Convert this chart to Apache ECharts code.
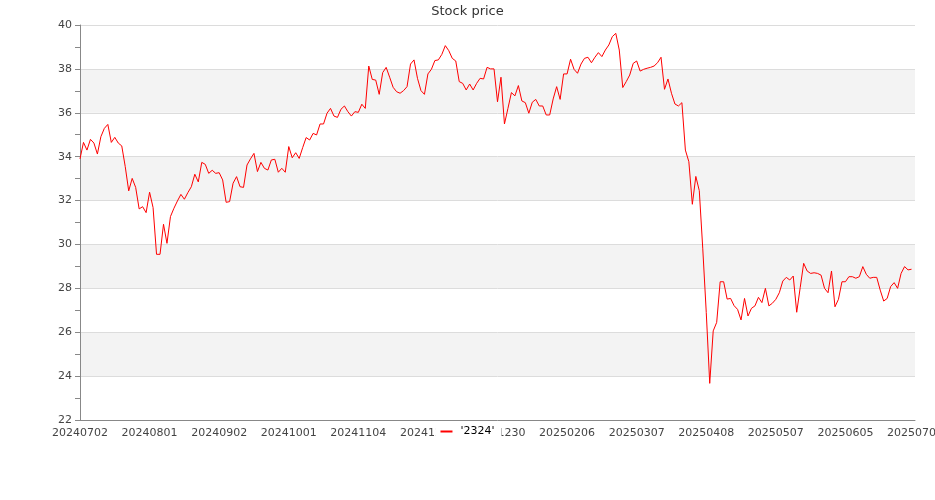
<!DOCTYPE html>
<html>
<head>
<meta charset="utf-8">
<script src="https://cdn.jsdelivr.net/npm/echarts@6/dist/echarts.min.js"></script>
<style>html,body{margin:0;padding:0;background:#fff}#c{width:935px;height:500px}</style>
</head>
<body>
<div id="c"></div>
<script>
// Trading days per month (categories)
const tradingDays = [
  ['202407', [2,3,4,5,8,9,10,11,12,15,16,17,18,19,22,23,26,29,30,31]],
  ['202408', [1,2,5,6,7,8,9,12,13,14,19,20,21,22,23,26,27,28,29,30]],
  ['202409', [2,3,4,5,6,9,10,11,12,13,16,18,19,20,23,24,25,26,27,30]],
  ['202410', [1,4,7,8,9,11,14,15,16,17,18,21,22,23,24,25,28,29,30]],
  ['202411', [1,4,5,6,7,8,11,12,13,14,15,18,19,20,21,22,25,26,27,28,29]],
  ['202412', [2,3,4,5,6,9,10,11,12,13,16,17,18,19,20,23,24,25,26,27,30,31]],
  ['202501', [2,3,6,7,8,9,10,13,14,15,16,17,20,21,22]],
  ['202502', [3,4,5,6,7,10,11,12,13,14,17,18,19,20,21,24,25,26,27]],
  ['202503', [3,4,5,6,7,10,11,12,13,14,17,18,19,20,21,24,25,26,27,28,31]],
  ['202504', [1,2,7,8,9,10,11,14,15,16,17,18,21,22,23,24,25,28,29,30]],
  ['202505', [2,5,6,7,8,9,12,13,14,15,16,19,20,21,22,23,26,27,28,29]],
  ['202506', [2,3,4,5,6,9,10,11,12,13,16,17,18,19,20,23,24,25,26,27,30]],
  ['202507', [1,2,3]]
];
const categories = [];
tradingDays.forEach(([ym, days]) => days.forEach(d => categories.push(ym + (d < 10 ? '0' + d : '' + d))));

const seriesName = "'2324'";
const prices = [
  33.9,34.65,34.3,34.79,34.62,34.12,34.91,35.29,35.47,34.65,
  34.88,34.62,34.49,33.55,32.44,33.01,32.6,31.62,31.72,31.45,
  32.38,31.68,29.55,29.55,30.92,30.05,31.27,31.65,31.98,32.28,
  32.06,32.36,32.63,33.2,32.85,33.74,33.65,33.24,33.38,33.24,
  33.27,32.94,31.92,31.95,32.79,33.09,32.63,32.6,33.62,33.9,
  34.15,33.32,33.74,33.47,33.39,33.85,33.88,33.29,33.47,33.29,
  34.46,33.95,34.18,33.92,34.41,34.87,34.76,35.06,34.99,35.49,
  35.49,35.98,36.2,35.85,35.79,36.16,36.31,36.05,35.85,36.05,
  36.02,36.39,36.2,38.13,37.52,37.49,36.84,37.83,38.07,37.62,
  37.16,36.96,36.89,37.01,37.19,38.22,38.41,37.57,37.01,36.84,
  37.77,37.98,38.38,38.41,38.66,39.06,38.83,38.48,38.36,37.42,
  37.34,37.04,37.31,37.04,37.34,37.57,37.54,38.07,38.0,38.0,
  36.5,37.62,35.49,36.2,36.92,36.77,37.24,36.54,36.46,35.98,
  36.48,36.61,36.31,36.31,35.9,35.9,36.63,37.19,36.61,37.77,
  37.77,38.44,37.98,37.8,38.22,38.48,38.53,38.28,38.53,38.74,
  38.56,38.86,39.09,39.47,39.62,38.86,37.15,37.42,37.72,38.25,
  38.36,37.9,37.98,38.03,38.07,38.13,38.28,38.53,37.07,37.54,
  36.89,36.4,36.31,36.46,34.3,33.77,31.83,33.1,32.45,29.8,
  26.9,23.67,26.06,26.45,28.3,28.3,27.51,27.54,27.21,27.04,
  26.56,27.54,26.74,27.09,27.2,27.59,27.35,28.0,27.2,27.32,
  27.5,27.8,28.33,28.5,28.38,28.56,26.91,28.03,29.14,28.79,
  28.68,28.71,28.68,28.6,28.0,27.8,28.79,27.16,27.5,28.3,
  28.3,28.53,28.53,28.46,28.53,28.99,28.64,28.46,28.5,28.5,
  27.92,27.42,27.54,28.08,28.26,28.0,28.68,28.99,28.84,28.87
];
const yMin = 22, yMax = 40, yStep = 2;

const chart = echarts.init(document.getElementById('c'), null, {renderer: 'canvas'});
const font = 'DejaVu Sans';
chart.setOption({
  animation: false,
  backgroundColor: '#fff',
  textStyle: {fontFamily: font},
  title: {
    text: 'Stock price', left: 'center', top: 0,
    textStyle: {fontSize: 13, fontWeight: 'normal', color: '#333', fontFamily: font}
  },
  legend: {
    data: [seriesName], left: 'center', top: 421, backgroundColor: '#fff',
    padding: [5, 7, 5, 5], icon: 'rect', itemWidth: 12, itemHeight: 2, selectedMode: false,
    textStyle: {fontSize: 11, color: '#000', fontFamily: font, padding: [0, 0, 0, 3]}
  },
  grid: {left: 80, right: 20, top: 25, bottom: 80, containLabel: false, outerBoundsMode: 'none'},
  xAxis: {
    type: 'category', data: categories, boundaryGap: false,
    axisLine: {lineStyle: {color: '#888'}},
    axisTick: {show: false},
    axisLabel: {interval: 19, fontSize: 11, color: '#444', fontFamily: font, margin: 8},
    splitLine: {show: false}
  },
  yAxis: {
    type: 'value', min: yMin, max: yMax, interval: yStep,
    axisLine: {show: true, lineStyle: {color: '#888'}},
    axisTick: {show: true, length: 5, lineStyle: {color: '#888'}},
    minorTick: {show: true, splitNumber: 2, length: 5, lineStyle: {color: '#888'}},
    axisLabel: {fontSize: 11, color: '#444', fontFamily: font, margin: 8},
    splitLine: {show: true, lineStyle: {color: '#dcdcdc', width: 1}},
    splitArea: {show: true, areaStyle: {color: ['#ffffff', '#f3f3f3']}}
  },
  series: [{
    name: seriesName, type: 'line', data: prices, showSymbol: false, symbol: 'none',
    lineStyle: {color: '#ff0000', width: 1}, itemStyle: {color: '#ff0000'}
  }]
});
</script>
</body>
</html>
